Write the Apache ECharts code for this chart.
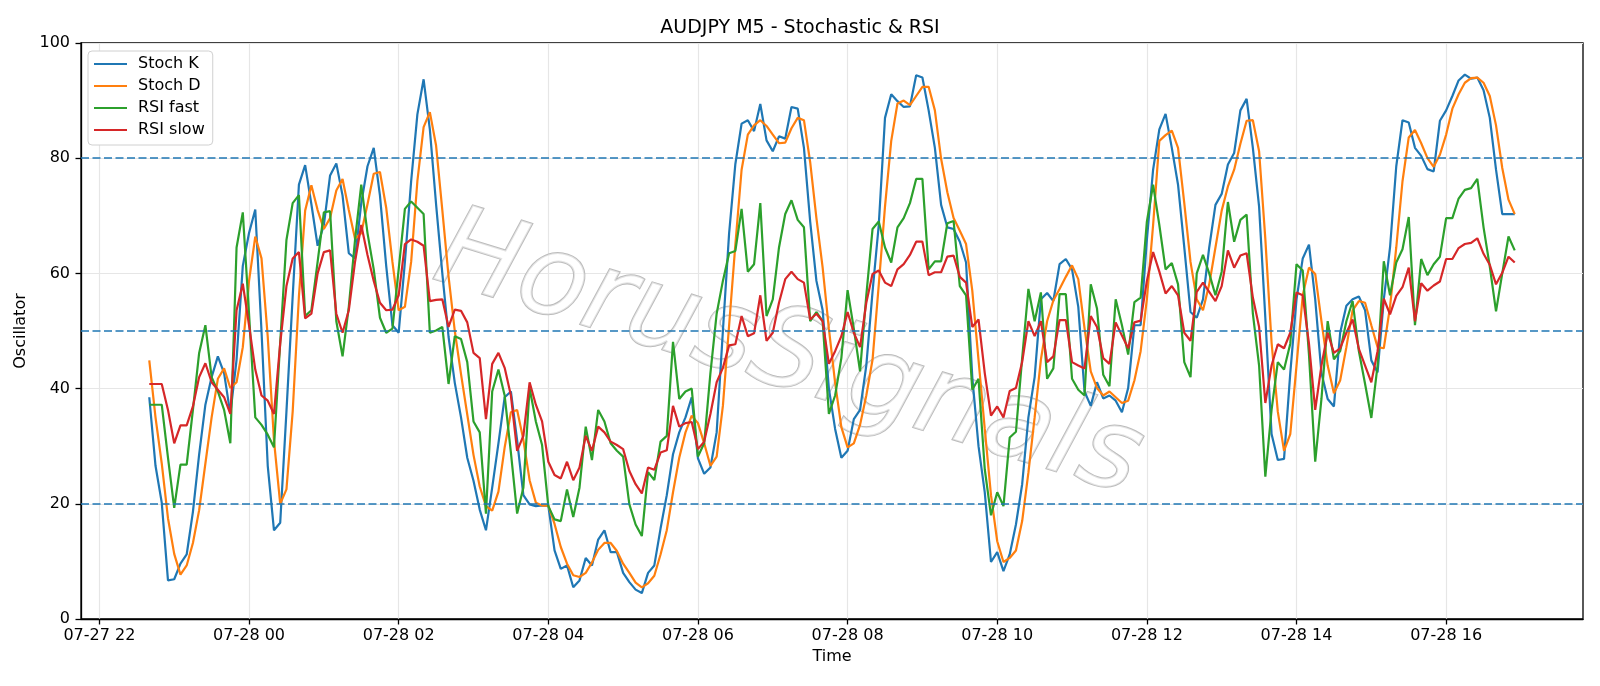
<!DOCTYPE html>
<html>
<head>
    <meta charset="utf-8" />
    <title>AUDJPY M5 - Stochastic &amp; RSI</title>
    <script type="text/javascript" src="https://cdn.jsdelivr.net/npm/echarts@6.0.0/dist/echarts.min.js"></script>
    <style>
        html, body { margin: 0; padding: 0; background: #fff; }
        #container { width: 1600px; height: 686px; }
    </style>
</head>
<body>
<div id="container"></div>
<script type="text/javascript">
    // M5 bars, first bar 07-27 22:40 (minutes counted from 07-27 00:00)
    var startMinute = 1360;
    var barMinutes = 5;

    var stochK = [
        38.5, 26.6, 20.2, 6.7, 6.9, 9.6, 11.2, 18.6, 28.6, 37.2,
        42, 45.6, 42.7, 35.6, 45, 61.3, 67, 71.1, 50, 26.6,
        15.4, 16.7, 36, 56, 75.4, 78.8, 72, 64.8, 68.4, 77,
        79.1, 73.5, 63.5, 62.6, 72.2, 78.6, 81.8, 73.5, 61.3, 51,
        49.7, 62, 76, 87.6, 93.7, 85, 72, 60, 49, 41,
        35, 28, 24, 19, 15.4, 22.8, 30.5, 38.5, 39.5, 31,
        21.5, 19.9, 19.6, 19.7, 19.7, 11.9, 8.7, 9.3, 5.5, 6.7,
        10.6, 9.3, 13.8, 15.4, 11.6, 11.6, 8, 6.4, 5.1, 4.5,
        8, 9.3, 15.7, 21.5, 28.6, 32.4, 35, 38.5, 27.9, 25.2,
        26.3, 32.4, 50, 67, 79, 86, 86.6, 84.7, 89.4, 83.1,
        81.2, 83.8, 83.4, 88.9, 88.6, 81.8, 69, 58.7, 53.6, 40,
        33, 28, 29.2, 34.7, 36.3, 44, 56.8, 68.4, 87, 91.1,
        89.9, 88.9, 89, 94.4, 94, 88.3, 81.8, 71.9, 68, 67.7,
        65.5, 61.9, 42, 30, 22, 9.9, 11.6, 8.3, 11.2, 16.4,
        23.4, 35, 42, 55.5, 56.6, 55.2, 61.6, 62.5, 60.7, 54.2,
        39.5, 37, 41.1, 38.3, 38.8, 37.9, 35.9, 40.1, 51, 51,
        65.8, 78, 85, 87.7, 81.8, 75.4, 64.5, 53.3, 52.3, 55.5,
        64.5, 71.9, 73.8, 78.9, 80.9, 88.3, 90.3, 81.8, 71.6, 52.3,
        32.1, 27.6, 27.8, 42.7, 55.5, 62.6, 65, 55.5, 42.7, 38.2,
        36.9, 49.7, 54.4, 55.5, 56, 53.6, 44.9, 42.8, 55.5, 64.5,
        78.6, 86.6, 86.2, 81.8, 80.4, 78.1, 77.7, 86.5, 88.3, 90.8,
        93.5, 94.5, 93.8, 94, 91.8, 87, 78, 70.3, 70.3, 70.3
    ];
    var stochD = [
        44.9, 35, 27, 17.5, 11.3, 7.7, 9.3, 13.2, 18.9, 27,
        35, 41.7, 43.5, 40.1, 41.1, 47.2, 58.7, 66.4, 62.6, 49,
        31, 20, 22.5, 36, 56, 70.9, 75.3, 71, 67.7, 69.6,
        74.4, 76.4, 71, 66, 67, 72, 77.3, 77.6, 71.4, 62,
        53.6, 54.2, 62, 76, 85.4, 88, 82.2, 71, 59.5, 50,
        42.5, 35.5, 28.5, 23, 19.6, 18.8, 22.1, 29.8, 35.9, 36.3,
        31.1, 24.1, 20.2, 19.7, 19.7, 16.5, 12.5, 9.6, 7.6, 7.3,
        8, 9.8, 12, 13.2, 13.2, 11.8, 9.6, 8, 6.3, 5.5,
        6.2, 7.5, 11.2, 15.4, 22, 28, 32.4, 35.3, 34, 30.5,
        26.6, 28.2, 37, 51, 65, 78, 84.1, 85.7, 86.6, 85.6,
        84.1, 82.6, 82.7, 85.2, 87, 86.6, 79.3, 69.6, 61, 50.4,
        41, 33.3, 29.8, 30.5, 33.7, 38.8, 45, 58, 71.6, 83,
        89.5, 90, 89.2, 90.8, 92.4, 92.4, 88.3, 79.9, 74.1, 69.6,
        67.4, 65.1, 57, 45, 33, 21.5, 13.5, 9.9, 10.6, 11.9,
        17, 25.4, 35, 45, 51.7, 55.3, 57.3, 59.4, 61.4, 59,
        50.5, 43, 40.1, 38.8, 39.5, 38.5, 37.5, 37.9, 41.4, 46.5,
        55.5, 68.4, 83, 84, 84.8, 81.8, 72.2, 62, 55.5, 53.6,
        58.1, 64.5, 70.9, 75.1, 78, 82.5, 86.5, 86.6, 81.2, 66,
        48, 36, 29.2, 32.1, 44, 56.2, 61, 59.9, 51.7, 44,
        39.2, 41.4, 47.2, 53.6, 55.2, 54.9, 51, 47.2, 47, 54.2,
        64.5, 76, 83.6, 84.9, 82.6, 80, 78.5, 80.6, 84.1, 88.6,
        91.1, 93.1, 93.9, 94, 93.1, 90.8, 85.7, 78.3, 72.8, 70.3
    ];
    var rsiFast = [
        37.2, 37.2, 37.2, 28, 19.3, 26.8, 26.8, 36.3, 46.2, 51,
        42, 39.5, 36.3, 30.5, 64.5, 70.6, 53, 35, 33.7, 32,
        29.8, 48, 65.8, 72.2, 73.6, 52.6, 53.6, 62, 70.6, 70.8,
        51.7, 45.6, 54.2, 65.8, 75.4, 67, 60.7, 52.3, 49.7, 50.4,
        60.7, 71.2, 72.5, 71.4, 70.3, 49.7, 50.1, 50.7, 40.8, 49.1,
        48.6, 44.6, 34.3, 32.4, 18.3, 39.5, 43.3, 38.8, 28.9, 18.3,
        22.8, 40.1, 34.3, 30.2, 19.6, 17.3, 17, 22.5, 17.7, 22.8,
        33.4, 27.6, 36.3, 34.3, 30.5, 29.2, 28.2, 19.9, 16.4, 14.4,
        25.5, 24.1, 30.8, 31.8, 48.1, 38.2, 39.5, 40, 28.2, 30.5,
        42.7, 53, 58.7, 63.5, 63.9, 71.2, 60.3, 61.6, 72.2, 52.6,
        55.5, 64.5, 70.3, 72.7, 69.3, 68, 51.7, 53.3, 51.7, 35.6,
        38.8, 45.3, 57.1, 50.4, 43, 56.2, 67.7, 69, 64.5, 61.9,
        68, 69.6, 72.2, 76.4, 76.4, 60.7, 62.1, 62.1, 68.7, 69.1,
        57.8, 56.2, 39.8, 41.7, 26, 18, 22, 19.6, 31.5, 32.5,
        45.3, 57.3, 51.7, 56.7, 41.7, 43.5, 56.4, 56.4, 41.7, 39.8,
        38.8, 58.1, 53.9, 42.4, 40.4, 55.5, 51, 45.9, 55, 55.8,
        69, 75.4, 68.4, 60.7, 61.8, 58.1, 44.6, 42, 60, 63.2,
        60, 56.2, 60.3, 72.4, 65.5, 69.3, 70.2, 53, 44, 24.7,
        36.3, 44.6, 43.3, 47.8, 61.6, 60.5, 45.9, 27.3, 38.2, 51.7,
        45.1, 46.5, 51.7, 55.2, 46.5, 40.8, 34.9, 44, 62.1, 56.2,
        61.9, 64.2, 69.8, 51, 62.5, 59.7, 61.6, 62.9, 69.6, 69.6,
        73, 74.5, 74.8, 76.4, 68, 61.2, 53.4, 60, 66.4, 64
    ];
    var rsiSlow = [
        40.8, 40.8, 40.8, 36.3, 30.5, 33.6, 33.6, 36.9, 42, 44.4,
        41.1, 39.8, 38.5, 35.6, 53.6, 58.2, 51, 43.3, 38.8, 37.9,
        35.6, 47.8, 57.8, 62.6, 63.7, 52.2, 53, 60, 63.7, 64,
        53, 49.7, 53.6, 62, 68.4, 63.2, 58.7, 54.9, 53.6, 53.7,
        56.2, 65.1, 65.9, 65.5, 64.8, 55.2, 55.4, 55.5, 50.7, 53.7,
        53.5, 51.5, 46.2, 45.3, 34.7, 44.3, 46.2, 43.6, 38.8, 29.2,
        31.8, 41.1, 37.2, 34.3, 27.3, 25, 24.4, 27.3, 24.1, 26.3,
        31.8, 29.2, 33.4, 32.4, 30.8, 30.2, 29.5, 25.7, 23.4, 21.8,
        26.3, 25.9, 28.9, 29.3, 37, 33.4, 34, 34.2, 29.5, 30.8,
        35.6, 41.1, 43.6, 47.5, 47.7, 52.6, 49.1, 49.6, 56.2, 48.3,
        49.7, 54.9, 59, 60.3, 59, 58.4, 52, 53, 51.7, 44.3,
        46.5, 49.1, 53.3, 49.7, 47.2, 54.9, 59.9, 60.5, 58.4, 57.8,
        60.7, 61.6, 63.2, 65.5, 65.5, 59.7, 60.2, 60.2, 62.9, 63.1,
        59.4, 58.4, 50.7, 52, 42.7, 35.3, 36.9, 35, 39.6, 40.1,
        44.6, 51.7, 49.1, 51.7, 44.6, 45.6, 51.9, 51.9, 44.6, 44,
        43.5, 52.6, 50.7, 45.3, 44.3, 51.5, 49.2, 47, 51.5, 51.8,
        58.7, 63.7, 60.3, 56.5, 57.8, 56.2, 49.7, 48.3, 56.8, 58.4,
        56.8, 55.2, 57.8, 64, 61, 63.1, 63.5, 55.8, 50.7, 37.5,
        44, 47.7, 47, 49.7, 56.7, 56.2, 47.8, 36.3, 44, 49.7,
        46.2, 47, 49.7, 52, 46.9, 44, 41.1, 46.5, 55.6, 52.9,
        56.1, 57.6, 61, 51.7, 58.3, 57, 57.9, 58.6, 62.5, 62.5,
        64.4, 65.1, 65.3, 66.1, 63.4, 61.5, 58.1, 60.1, 62.9, 61.9
    ];
    var levels = [80, 50, 20];
    var tickValues = [1320, 1440, 1560, 1680, 1800, 1920, 2040, 2160, 2280, 2400];
    var tickLabels = ['07-27 22', '07-28 00', '07-28 02', '07-28 04', '07-28 06',
        '07-28 08', '07-28 10', '07-28 12', '07-28 14', '07-28 16'];

    var font = 'DejaVu Sans';
    var times = stochK.map(function (v, i) { return startMinute + i * barMinutes; });
    function pairs(arr) {
        return arr.map(function (v, i) { return [times[i], v]; });
    }
    // matplotlib style 5% margin on each side of the time range
    var span = times[times.length - 1] - times[0];
    var xMin = times[0] - span * 0.05;
    var xMax = times[times.length - 1] + span * 0.05;

    var dom = document.getElementById("container");
    var myChart = echarts.init(dom, null, {renderer: 'canvas'});

    function lineSeries(name, arr, color) {
        return {
            name: name,
            type: 'line',
            data: pairs(arr),
            showSymbol: false,
            symbol: 'none',
            sampling: null,
            lineStyle: {color: color, width: 2.2},
            itemStyle: {color: color},
            z: 3
        };
    }

    var series = [
        lineSeries('Stoch K', stochK, '#1f77b4'),
        lineSeries('Stoch D', stochD, '#ff7f0e'),
        lineSeries('RSI fast', rsiFast, '#2ca02c'),
        lineSeries('RSI slow', rsiSlow, '#d62728')
    ];
    series[0].markLine = {
        silent: true,
        symbol: ['none', 'none'],
        label: {show: false},
        animation: false,
        lineStyle: {color: '#1f77b4', type: [8, 3.5], width: 1.6},
        data: levels.map(function (l) { return {yAxis: l}; })
    };

    var option = {
        animation: false,
        backgroundColor: '#fff',
        title: {
            text: 'AUDJPY M5 - Stochastic & RSI',
            left: 'center',
            top: 14,
            textStyle: {fontFamily: font, fontSize: 19, fontWeight: 'normal', color: '#000'}
        },
        legend: {
            orient: 'vertical',
            left: 88,
            top: 51,
            padding: [5, 8, 7, 6],
            itemGap: 6,
            itemWidth: 33,
            itemHeight: 2,
            icon: 'rect',
            backgroundColor: '#fff',
            borderColor: '#d0d0d0',
            borderWidth: 1,
            borderRadius: 4,
            textStyle: {fontFamily: font, fontSize: 16, color: '#000', lineHeight: 16, padding: [0, 0, 0, 6]},
            data: ['Stoch K', 'Stoch D', 'RSI fast', 'RSI slow']
        },
        grid: {
            left: 81,
            right: 17,
            top: 43,
            bottom: 67,
            show: true,
            borderColor: '#000',
            borderWidth: 1.3,
            containLabel: false
        },
        graphic: [
            {
                type: 'text',
                x: 788,
                y: 358,
                rotation: -0.3,
                z: 1,
                silent: true,
                style: {
                    text: 'HorusSignals',
                    font: 'italic 112px "DejaVu Sans"',
                    align: 'center',
                    verticalAlign: 'middle',
                    fill: 'rgba(255,255,255,0.6)',
                    stroke: '#bcbcbc',
                    lineWidth: 2,
                    shadowColor: 'rgba(0,0,0,0.28)',
                    shadowBlur: 2,
                    shadowOffsetX: 3,
                    shadowOffsetY: 3
                }
            }
        ],
        xAxis: {
            type: 'value',
            min: xMin,
            max: xMax,
            name: 'Time',
            nameLocation: 'middle',
            nameGap: 27,
            nameTextStyle: {fontFamily: font, fontSize: 16, color: '#000'},
            axisLine: {show: true, onZero: false, lineStyle: {color: '#000', width: 1.3}},
            axisTick: {show: true, length: 5.5, customValues: tickValues, lineStyle: {color: '#000', width: 1.3}},
            axisLabel: {
                customValues: tickValues,
                margin: 9,
                fontFamily: font,
                fontSize: 16,
                color: '#000',
                formatter: function (v) {
                    var i = tickValues.indexOf(v);
                    return i >= 0 ? tickLabels[i] : '';
                }
            },
            splitLine: {show: true, lineStyle: {color: '#e6e6e6', width: 1.2}}
        },
        yAxis: {
            type: 'value',
            min: 0,
            max: 100,
            interval: 20,
            name: 'Oscillator',
            nameLocation: 'middle',
            nameGap: 40,
            nameRotate: 90,
            nameTextStyle: {fontFamily: font, fontSize: 16, color: '#000'},
            axisLine: {show: true, lineStyle: {color: '#000', width: 1.3}},
            axisTick: {show: true, length: 5.5, lineStyle: {color: '#000', width: 1.3}},
            axisLabel: {margin: 11, fontFamily: font, fontSize: 16, color: '#000'},
            splitLine: {show: true, lineStyle: {color: '#e6e6e6', width: 1.2}}
        },
        series: series
    };
    myChart.setOption(option, true);
</script>
</body>
</html>
